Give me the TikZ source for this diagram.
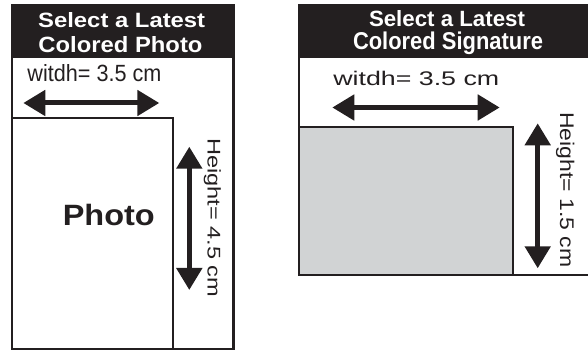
\documentclass[tikz,border=0pt]{standalone}
\usepackage{fontspec}
\setmainfont{Liberation Sans}
\usetikzlibrary{arrows.meta}
\definecolor{ink}{HTML}{231F20}
\definecolor{sig}{HTML}{D1D3D4}
\newcommand{\fitbox}[3]{\resizebox{#1pt}{#2pt}{#3}}
\tikzset{
	dimarrow/.style={ink, line width=5pt, {Triangle[length=22pt,width=25pt]}-{Triangle[length=22pt,width=25pt]}},
	txt/.style={inner sep=0pt, text=ink, anchor=base},
	head/.style={inner sep=0pt, text=white, font=\bfseries, anchor=base},
	frame/.style={draw=ink, line width=2.4pt},
}

\begin{document}
\begin{tikzpicture}[x=1pt,y=-1pt]
			\useasboundingbox (0,0) rectangle (588,352);

			% photo panel
			\fill[ink] (12,5) rectangle (233.5,58);
			\draw[frame] (12,5) rectangle (233.5,349);
			\draw[ink, line width=2pt] (12,118.3) rectangle (173.3,349);

			\node[head] (hdL1) at (121.7,27.5) {\fitbox{167}{15}{Select a Latest}};
			\node[head] (hdL2) at (120.5,53) {\fitbox{164}{16}{Colored Photo}};
			\node[txt] (wdL) at (94.5,81.5) {\fitbox{134}{17}{witdh= 3.5 cm}};
			\node[txt, font=\bfseries] (ph) at (108.8,225.7) {\fitbox{92}{21.3}{Photo}};
			\node[txt, rotate=-90, anchor=base west] (htL) at (207.7,138) {\fitbox{159}{13.3}{Height= 4.5 cm}};

			\coordinate (wL1) at (23.3,103);
			\coordinate (wL2) at (159.3,103);
			\coordinate (hL1) at (189.3,146.7);
			\coordinate (hL2) at (189.3,290);
			\draw[dimarrow] (wL1) -- (wL2);
			\draw[dimarrow] (hL1) -- (hL2);

			% signature panel
			\fill[ink] (299,5) rectangle (600,58);
			\draw[frame] (299,5) rectangle (600,275);
			\filldraw[fill=sig, draw=ink, line width=2pt] (299,126.7) rectangle (513.3,275);

			\node[head] (hdR1) at (447,26.5) {\fitbox{156}{16}{Select a Latest}};
			\node[head] (hdR2) at (448,49.5) {\fitbox{190}{17.6}{Colored Signature}};
			\node[txt] (wdR) at (416.3,86) {\fitbox{166}{14.3}{witdh= 3.5 cm}};
			\node[txt, rotate=-90, anchor=base west] (htR) at (560,112) {\fitbox{155}{14.3}{Height= 1.5 cm}};

			\coordinate (wR1) at (332.3,107.5);
			\coordinate (wR2) at (499.7,107.5);
			\coordinate (hR1) at (537.7,123.3);
			\coordinate (hR2) at (537.7,268.3);
			\draw[dimarrow] (wR1) -- (wR2);
			\draw[dimarrow] (hR1) -- (hR2);
		\end{tikzpicture}
\end{document}
